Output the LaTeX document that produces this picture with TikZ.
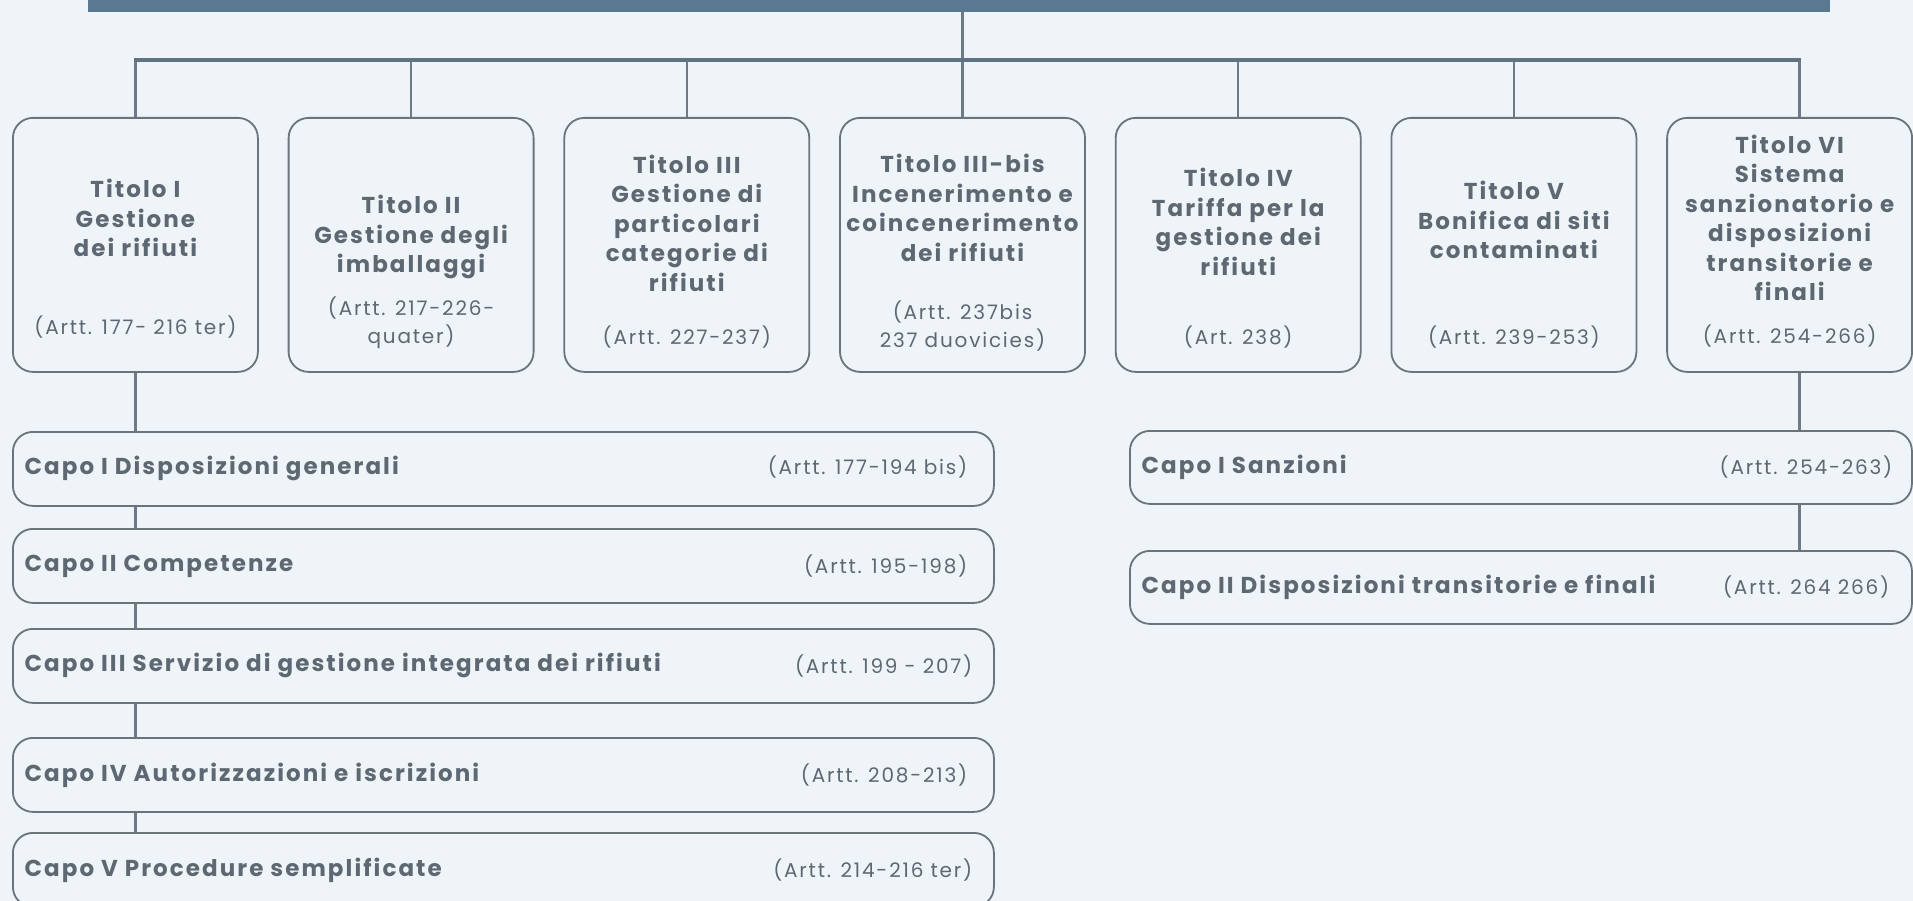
\documentclass[tikz,border=0pt]{standalone}
\usepackage{fontspec}
\setmainfont{Poppins}[LetterSpace=9]
\usetikzlibrary{positioning, calc}

\definecolor{bgcol}{HTML}{EFF4F8}
\definecolor{barcol}{HTML}{5A7891}
\definecolor{railcol}{HTML}{607383}
\definecolor{linecol}{HTML}{6C7B87}
\definecolor{boxcol}{HTML}{6B737B}
\definecolor{txtcol}{HTML}{5D6873}

\begin{document}
\begin{tikzpicture}[
    x=1pt, y=-1pt,
    node distance = 28.9pt,
    titolo/.style={draw=boxcol, line width=1.8pt, rounded corners=20pt, fill=bgcol, minimum width=245pt, minimum height=254pt, inner sep=0pt},
    capo/.style={draw=boxcol, line width=1.8pt, rounded corners=20pt, fill=bgcol, minimum height=74pt, inner sep=0pt},
    head/.style={text=txtcol, align=center, font=\bfseries\fontsize{23}{29.5}\selectfont},
    artt/.style={text=txtcol, align=center, font=\fontsize{20}{28}\selectfont},
    capohead/.style={text=txtcol, anchor=west, font=\bfseries\fontsize{23}{25}\selectfont},
    capoartt/.style={text=txtcol, anchor=east, font=\fontsize{20}{25}\selectfont},
    link/.style={draw=linecol, line width=2.5pt},
    rail/.style={draw=railcol, line width=4pt},
]
\useasboundingbox (0,0) rectangle (1913,901);
\clip (0,0) rectangle (1913,901);
\fill[bgcol] (0,0) rectangle (1913,901);

% testata
\node[fill=barcol, minimum width=1742pt, minimum height=30pt, inner sep=0pt, anchor=south west] (bar) at (88,12) {};

% titoli
\node[titolo, anchor=north west] (t1) at (12,117) {};
\node[titolo, right=of t1] (t2) {};
\node[titolo, right=of t2] (t3) {};
\node[titolo, right=of t3] (t4) {};
\node[titolo, right=of t4] (t5) {};
\node[titolo, right=of t5] (t6) {};
\node[titolo, right=of t6] (t7) {};

\node[head] (h1) at ($(t1.north)+(0,101)$) {Titolo I\\Gestione\\dei rifiuti};
\node[artt] (a1) at ($(t1.north)+(0,210)$) {(Artt. 177- 216 ter)};
\node[head] (h2) at ($(t2.north)+(0,120)$) {Titolo II\\Gestione degli\\imballaggi};
\node[artt] (a2) at ($(t2.north)+(0,206)$) {(Artt. 217-226-\\quater)};
\node[head] (h3) at ($(t3.north)+(0,106)$) {Titolo III\\Gestione di\\particolari\\categorie di\\rifiuti};
\node[artt] (a3) at ($(t3.north)+(0,220)$) {(Artt. 227-237)};
\node[head] (h4) at ($(t4.north)+(0,91)$) {Titolo III-bis\\Incenerimento e\\coincenerimento\\dei rifiuti};
\node[artt] (a4) at ($(t4.north)+(0,209.5)$) {(Artt. 237bis\\237 duovicies)};
\node[head] (h5) at ($(t5.north)+(0,105)$) {Titolo IV\\Tariffa per la\\gestione dei\\rifiuti};
\node[artt] (a5) at ($(t5.north)+(0,220)$) {(Art. 238)};
\node[head] (h6) at ($(t6.north)+(0,103)$) {Titolo V\\Bonifica di siti\\contaminati};
\node[artt] (a6) at ($(t6.north)+(0,220)$) {(Artt. 239-253)};
\node[head] (h7) at ($(t7.north)+(0,101)$) {Titolo VI\\Sistema\\sanzionatorio e\\disposizioni\\transitorie e\\finali};
\node[artt] (a7) at ($(t7.north)+(0,219)$) {(Artt. 254-266)};

% capi
\node[capo, minimum width=981pt, anchor=north west] (c1) at (12,431) {};
\node[capo, minimum width=981pt, below=21.2pt of c1] (c2) {};
\node[capo, minimum width=981pt, below=24.2pt of c2] (c3) {};
\node[capo, minimum width=981pt, below=33.2pt of c3] (c4) {};
\node[capo, minimum width=981pt, below=19.2pt of c4] (c5) {};
\node[capo, minimum width=782pt, minimum height=73pt, anchor=north west] (s1) at (1129,430) {};
\node[capo, minimum width=782pt, minimum height=73pt, below=45.2pt of s1] (s2) {};

\node[capohead] (c1h) at ($(c1.west)+(9,0)$) {Capo I Disposizioni generali};
\node[capoartt] (c1a) at ($(c1.east)+(-24,-2)$) {(Artt. 177-194 bis)};
\node[capohead] (c2h) at ($(c2.west)+(9,0)$) {Capo II Competenze};
\node[capoartt] (c2a) at ($(c2.east)+(-24,0)$) {(Artt. 195-198)};
\node[capohead] (c3h) at ($(c3.west)+(9,0)$) {Capo III Servizio di gestione integrata dei rifiuti};
\node[capoartt] (c3a) at ($(c3.east)+(-19,0)$) {(Artt. 199 - 207)};
\node[capohead] (c4h) at ($(c4.west)+(9,0)$) {Capo IV Autorizzazioni e iscrizioni};
\node[capoartt] (c4a) at ($(c4.east)+(-24,0)$) {(Artt. 208-213)};
\node[capohead] (c5h) at ($(c5.west)+(9,0)$) {Capo V Procedure semplificate};
\node[capoartt] (c5a) at ($(c5.east)+(-19,0)$) {(Artt. 214-216 ter)};
\node[capohead] (s1h) at ($(s1.west)+(9,0)$) {Capo I Sanzioni};
\node[capoartt] (s1a) at ($(s1.east)+(-17,0)$) {(Artt. 254-263)};
\node[capohead] (s2h) at ($(s2.west)+(9,0)$) {Capo II Disposizioni transitorie e finali};
\node[capoartt] (s2a) at ($(s2.east)+(-20,0)$) {(Artt. 264 266)};

% collegamenti
\coordinate (r) at (0,60);
\draw[link] (bar.south -| t4.north) -- (t4.north);
\foreach \n in {1,2,3,5,6}
    \draw[link] (t\n.north |- r) -- (t\n.north);
\draw[link] ($(t7.north |- r)+(10,0)$) -- ($(t7.north)+(10,0)$);
\draw[rail] ($(t1.north |- r)+(-1.25,0)$) -- ($(t7.north |- r)+(11.25,0)$);

\draw[link] (t1.south) -- (t1.south |- c1.north);
\foreach \a/\b in {c1/c2, c2/c3, c3/c4, c4/c5}
    \draw[link] (t1.south |- \a.south) -- (t1.south |- \b.north);
\draw[link] ($(t7.south)+(10,0)$) -- ($(t7.south |- s1.north)+(10,0)$);
\draw[link] ($(t7.south |- s1.south)+(10,0)$) -- ($(t7.south |- s2.north)+(10,0)$);

\end{tikzpicture}
\end{document}
